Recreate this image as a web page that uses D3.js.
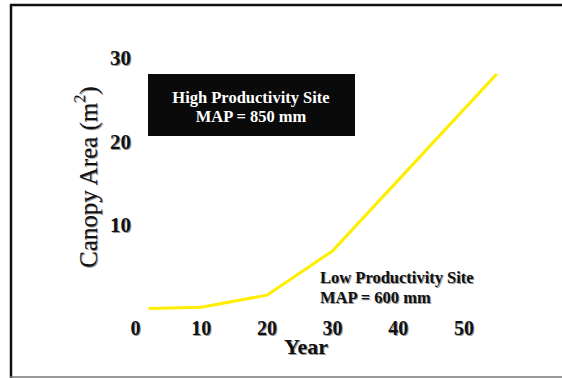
<!DOCTYPE html>
<html><head><meta charset="utf-8">
<script src="https://cdn.jsdelivr.net/npm/d3@7"></script>
<style>body{margin:0;background:#fff}svg{display:block}</style>
</head><body>
<script>
const years = [2, 10, 20, 30, 55];
const canopy = [0, 0.15, 1.6, 6.9, 28.1];
const xTicks = [0, 10, 20, 30, 40, 50];
const yTicks = [10, 20, 30];
const highLabel = ["High Productivity Site", "MAP = 850 mm"];
const lowLabel = ["Low Productivity Site", "MAP = 600 mm"];

const W = 562, H = 378;
const svg = d3.select("body").append("svg").attr("width", W).attr("height", H);
const font = "'Liberation Serif','Times New Roman',serif";

// frame
svg.append("line").attr("x1", 11).attr("x2", 11).attr("y1", 4).attr("y2", H).attr("stroke", "#111").attr("stroke-width", 2.5);
svg.append("line").attr("x1", 10).attr("x2", W).attr("y1", 5).attr("y2", 5).attr("stroke", "#111").attr("stroke-width", 2.5);
svg.append("line").attr("x1", 10).attr("x2", W).attr("y1", 377).attr("y2", 377).attr("stroke", "#777").attr("stroke-width", 1.5);

const x = d3.scaleLinear().domain([0, 50]).range([135.5, 464]);
const y = d3.scaleLinear().domain([0, 30]).range([308.5, 58]);

function shadowText(g, tx, ty, txt, opts) {
  const grp = g.append("g");
  [[1, 1, "#999"], [0, 0, "#111"]].forEach(([dx, dy, c]) => {
    grp.append("text").attr("x", tx + dx).attr("y", ty + dy).text(txt)
      .attr("font-family", font).attr("font-weight", "bold").attr("font-size", opts.size)
      .attr("text-anchor", opts.anchor || "middle").attr("dominant-baseline", "central").attr("fill", c);
  });
}

// x tick labels
xTicks.forEach(t => shadowText(svg, x(t), 328, t, {size: 20}));
// y tick labels
yTicks.forEach(t => shadowText(svg, 131, y(t), t, {size: 21, anchor: "end"}));

// axis titles
shadowText(svg, 306, 346, "Year", {size: 22});
[[1, 1, "#999"], [0, 0, "#111"]].forEach(([dx, dy, c]) => {
  const yl = svg.append("text").attr("transform", `translate(${88 + dx},${177 + dy}) rotate(-90)`)
    .attr("font-family", font).attr("font-size", 25).attr("text-anchor", "middle")
    .attr("dominant-baseline", "central").attr("fill", c);
  yl.append("tspan").text("Canopy Area (m");
  yl.append("tspan").text("2").attr("font-size", 16).attr("dy", -9);
  yl.append("tspan").text(")").attr("dy", 9);
});

// line
const data = years.map((yr, i) => ({yr, v: canopy[i]}));
svg.append("path").datum(data)
  .attr("d", d3.line().x(d => x(d.yr)).y(d => y(d.v)))
  .attr("fill", "none").attr("stroke", "#ffee00").attr("stroke-width", 3).attr("stroke-linejoin", "round");

// high productivity box
svg.append("rect").attr("x", 148).attr("y", 74).attr("width", 207).attr("height", 62).attr("fill", "#0a0a0a");
highLabel.forEach((t, i) => svg.append("text").attr("x", 251).attr("y", 97 + i * 19).text(t)
  .attr("font-family", font).attr("font-weight", "bold").attr("font-size", 16.5)
  .attr("text-anchor", "middle").attr("dominant-baseline", "central").attr("fill", "#fff"));

// low productivity label
lowLabel.forEach((t, i) => shadowText(svg, 320, 277 + i * 20.5, t, {size: 16.5, anchor: "start"}));
</script>
</body></html>
